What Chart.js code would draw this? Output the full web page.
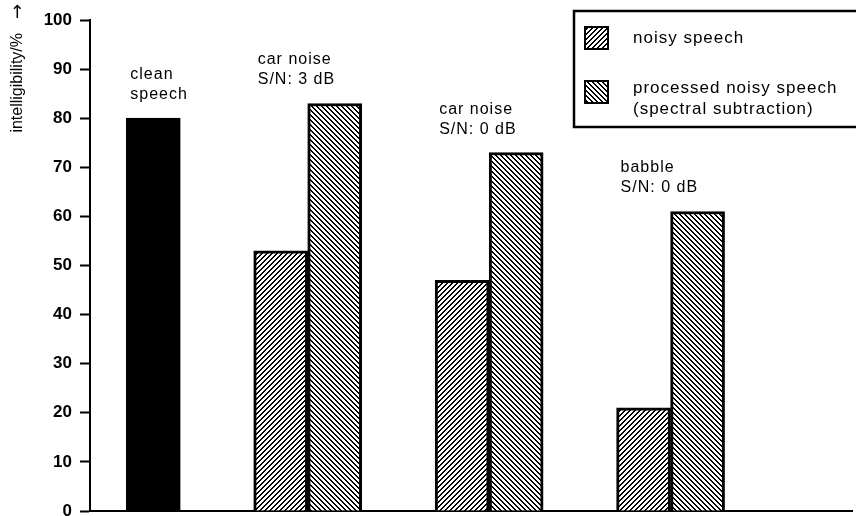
<!DOCTYPE html>
<html lang="en">
<head>
<meta charset="UTF-8">
<title>Intelligibility</title>
<script src="https://cdn.jsdelivr.net/npm/chart.js"></script>
<style>
    html, body { margin: 0; padding: 0; background: #fff; }
    #wrap { width: 856px; height: 516px; }
</style>
</head>
<body>
<div id="wrap"><canvas id="chartCanvas"></canvas></div>
<script>
    // text above each bar group (the x axis has no tick labels)
    const groups = [['clean', 'speech'], ['car noise', 'S/N: 3 dB'], ['car noise', 'S/N: 0 dB'], ['babble', 'S/N: 0 dB']];
    // intelligibility in %, one value per group (null = no bar)
    const clean = [80, null, null, null];
    const noisy = [null, 53, 47, 21];
    const processed = [null, 83, 73, 61];
    const seriesNames = [['noisy speech'], ['processed noisy speech', '(spectral subtraction)']];
    const yTicks = [0, 10, 20, 30, 40, 50, 60, 70, 80, 90, 100];
    const yTitle = 'intelligibility/%';

    Chart.defaults.font.family = "'Liberation Sans', Arial, sans-serif";
    Chart.defaults.color = '#000';

    // crisp hatch tile, '/' or '\' (pixel stair-steps, like the printed figure)
    function hatch(dir) {
        const s = 5, w = 2;
        const c = document.createElement('canvas');
        c.width = s; c.height = s;
        const g = c.getContext('2d');
        g.fillStyle = '#fff';
        g.fillRect(0, 0, s, s);
        g.fillStyle = '#000';
        for (let y = 0; y < s; y++) {
            for (let k = 0; k < w; k++) {
                const x = dir === '/' ? (s - 1 - y + k) % s : (y + k) % s;
                g.fillRect(x, y, 1, 1);
            }
        }
        return g.createPattern(c, 'repeat');
    }

    function points(values) {
        return values.map((v, i) => ({ x: i, y: v })).filter(p => p.y !== null);
    }

    // group captions above the bars
    const captions = {
        id: 'captions',
        afterDatasetsDraw(chart) {
            const ctx = chart.ctx;
            ctx.save();
            ctx.font = "16px 'Liberation Sans', Arial, sans-serif";
            ctx.letterSpacing = '1px';
            ctx.fillStyle = '#000';
            ctx.textAlign = 'left';
            ctx.textBaseline = 'alphabetic';
            groups.forEach((lines, i) => {
                let left = Infinity, top = Infinity;
                chart.data.datasets.forEach((ds, d) => {
                    const meta = chart.getDatasetMeta(d);
                    meta.data.forEach((el, j) => {
                        if (ds.data[j].x !== i) return;
                        left = Math.min(left, el.x - el.width / 2);
                        top = Math.min(top, el.y);
                    });
                });
                const base = top - 19;
                lines.forEach((t, k) => {
                    ctx.fillText(t, left + 4, base - (lines.length - 1 - k) * 20);
                });
            });
            ctx.restore();
        }
    };

    // boxed legend at the top right, plus the rotated y title
    const legendBox = {
        id: 'legendBox',
        afterDraw(chart) {
            const ctx = chart.ctx;
            ctx.save();
            ctx.strokeStyle = '#000';
            ctx.lineWidth = 2.5;
            ctx.fillStyle = '#fff';
            ctx.fillRect(574, 11, 290, 116);
            ctx.strokeRect(574, 11, 290, 116);

            const rows = [{ ds: 0, y: 27 }, { ds: 1, y: 81 }];
            const baselines = [[43], [93, 114]];
            ctx.font = "17px 'Liberation Sans', Arial, sans-serif";
            ctx.letterSpacing = '1px';
            ctx.lineWidth = 2;
            rows.forEach((r, n) => {
                ctx.fillStyle = chart.data.datasets[r.ds].backgroundColor;
                ctx.fillRect(585, r.y, 23, 22);
                ctx.strokeRect(585, r.y, 23, 22);
                ctx.fillStyle = '#000';
                seriesNames[n].forEach((t, k) => ctx.fillText(t, 633, baselines[n][k]));
            });

            ctx.letterSpacing = '0px';
            ctx.textAlign = 'right';
            ctx.textBaseline = 'middle';
            ctx.translate(18, 33);
            ctx.rotate(-Math.PI / 2);
            ctx.font = "16px 'Liberation Sans', Arial, sans-serif";
            ctx.fillText(yTitle, 0, 0);
            ctx.font = "18px 'DejaVu Sans', sans-serif";
            ctx.fillText('\u2192', 29, 0);
            ctx.restore();
        }
    };

    const config = {
        type: 'bar',
        data: {
            datasets: [
                { label: seriesNames[0].join(' '), data: points(noisy), stack: 'a',
                  backgroundColor: hatch('/'), borderColor: '#000', borderWidth: 3, barThickness: 54 },
                { label: seriesNames[1].join(' '), data: points(processed), stack: 'b',
                  backgroundColor: hatch('\\'), borderColor: '#000', borderWidth: 3, barThickness: 54 },
                { label: groups[0].join(' '), data: points(clean), stack: 'b',
                  backgroundColor: '#000', borderColor: '#000', borderWidth: 3, barThickness: 54 }
            ]
        },
        options: {
            responsive: true,
            maintainAspectRatio: false,
            animation: false,
            devicePixelRatio: 1,
            layout: { padding: { top: 20, right: 4, bottom: 5, left: 0 } },
            plugins: { legend: { display: false }, tooltip: { enabled: false } },
            scales: {
                x: {
                    type: 'linear', min: -0.2, max: 4, offset: false,
                    afterFit: s => { s.height = 0; },
                    ticks: { display: false },
                    grid: { display: false },
                    border: { color: '#000', width: 2 }
                },
                y: {
                    min: 0, max: 100,
                    afterBuildTicks: s => { s.ticks = yTicks.map(v => ({ value: v })); },
                    afterFit: s => { s.width = 90; s.paddingBottom = 0; s.paddingTop = 0; },
                    grid: { drawOnChartArea: false, tickLength: 10, tickColor: '#000', tickWidth: 2 },
                    border: { color: '#000', width: 2 },
                    ticks: { padding: 8, color: '#000', font: { size: 17, weight: 'bold' } }
                }
            }
        },
        plugins: [captions, legendBox]
    };

    new Chart(document.getElementById('chartCanvas'), config);
</script>
</body>
</html>
